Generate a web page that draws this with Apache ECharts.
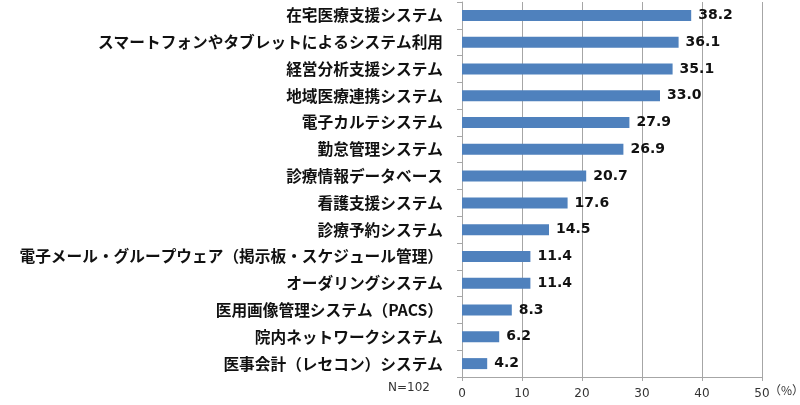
<!DOCTYPE html>
<html>
<head>
<meta charset="utf-8">
<script src="https://cdn.jsdelivr.net/npm/echarts@6/dist/echarts.min.js"></script>
<style>
  html, body { margin: 0; padding: 0; background: #fff; }
  #chart { width: 800px; height: 405px; }
</style>
</head>
<body>
<div id="chart"></div>
<script>
// 項目名（上から順）
var categories = [
	'在宅医療支援システム',
	'スマートフォンやタブレットによるシステム利用',
	'経営分析支援システム',
	'地域医療連携システム',
	'電子カルテシステム',
	'勤怠管理システム',
	'診療情報データベース',
	'看護支援システム',
	'診療予約システム',
	'電子メール・グループウェア（掲示板・スケジュール管理）',
	'オーダリングシステム',
	'医用画像管理システム（PACS）',
	'院内ネットワークシステム',
	'医事会計（レセコン）システム'
];
// 割合（%）
var values = [38.2, 36.1, 35.1, 33.0, 27.9, 26.9, 20.7, 17.6, 14.5, 11.4, 11.4, 8.3, 6.2, 4.2];
// 目盛
var xTicks = [0, 10, 20, 30, 40, 50];

var myChart = echarts.init(document.getElementById('chart'));
myChart.setOption({
	animation: false,
	grid: { left: 462, right: 38, top: 2, bottom: 28, containLabel: false },
	xAxis: {
		type: 'value',
		min: xTicks[0],
		max: xTicks[xTicks.length - 1],
		interval: 10,
		axisLine: { show: true, lineStyle: { color: '#a6a6a6' } },
		axisTick: { show: true, length: 4, lineStyle: { color: '#a6a6a6' } },
		axisLabel: {
			color: '#333',
			fontFamily: 'DejaVu Sans',
			fontSize: 12,
			margin: 11
		},
		splitLine: { show: true, lineStyle: { color: '#a6a6a6', width: 1 } }
	},
	yAxis: {
		type: 'category',
		inverse: true,
		data: categories,
		axisLine: { show: true, lineStyle: { color: '#a6a6a6' } },
		axisTick: { show: true, length: 5, inside: false, lineStyle: { color: '#a6a6a6' } },
		axisLabel: {
			color: '#111',
			fontFamily: 'Noto Sans CJK JP',
			fontWeight: 'bold',
			fontSize: 15.7,
			margin: 19
		}
	},
	graphic: [{
		type: 'text',
		left: 388,
		top: 382,
		style: { text: 'N=102', fill: '#333', font: '12px "DejaVu Sans"' }
	}, {
		type: 'text',
		left: 769,
		top: 384,
		style: { text: '（%）', fill: '#333', font: '12px "Noto Sans CJK JP"' }
	}],
	series: [{
		type: 'bar',
		data: values,
		barWidth: 11,
		itemStyle: { color: '#4f81bd' },
		label: {
			show: true,
			position: 'right',
			distance: 7,
			color: '#111',
			fontFamily: 'DejaVu Sans',
			fontWeight: 'bold',
			fontSize: 14,
			formatter: function (p) { return p.value.toFixed(1); }
		}
	}]
});
</script>
</body>
</html>
